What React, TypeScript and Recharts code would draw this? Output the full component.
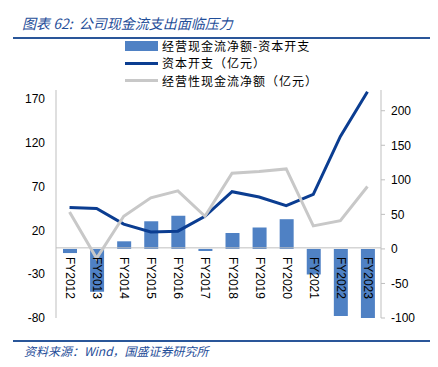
import React from 'react';
import { ComposedChart, Bar, Line, XAxis, YAxis, ReferenceLine, LabelList } from 'recharts';

// values
const years = ['FY2012', 'FY2013', 'FY2014', 'FY2015', 'FY2016', 'FY2017', 'FY2018', 'FY2019', 'FY2020', 'FY2021', 'FY2022', 'FY2023'];
const netFlow = [-6, -62, 11, 40, 48, -3, 23, 31, 43, -37, -97, -100];
const capex = [46, 45, 27, 18, 19, 36, 64, 58, 48, 61, 127, 178];
const opCash = [41, -12, 36, 57, 65, 36, 85, 87, 90, 25, 31, 70];

const leftTicks = [-80, -30, 20, 70, 120, 170];
const rightTicks = [-100, -50, 0, 50, 100, 150, 200];

const seriesNames = ['经营现金流净额-资本开支', '资本开支（亿元）', '经营性现金流净额（亿元）'];
const title = '图表 62:  公司现金流支出面临压力';
const source = '资料来源：Wind，国盛证券研究所';

const BAR = '#4F81C4';
const CAPEX = '#0B3D91';
const OPCF = '#C8C8C8';
const AXIS = '#BFBFBF';
const TITLE_BLUE = '#1F4E99';

const rows = years.map((y, i) => ({ year: y, net: netFlow[i], capex: capex[i], op: opCash[i] }));

const tickFont = { fontSize: 12, fontFamily: '"Liberation Sans", Arial, sans-serif', fill: '#000' };

const renderYear = (props: any) => {
  const { x, y, width, height, index } = props;
  const top = Math.min(y, y + height);
  const bottom = Math.max(y, y + height);
  const base = netFlow[index] >= 0 ? bottom : top;
  return (
    <text
      key={`yr-${index}`}
      transform={`translate(${x + width / 2},${base + 8}) rotate(90)`}
      dominantBaseline="central"
      {...tickFont}
    >
      {years[index]}
    </text>
  );
};

const LegendRow = ({ top, kind, label }: { top: number; kind: string; label: string }) => (
  <div style={{ position: 'absolute', left: 125, top: top - 7, height: 14, display: 'flex', alignItems: 'center' }}>
    {kind === 'bar' ? (
      <div style={{ width: 33, height: 10, background: BAR }} />
    ) : (
      <div style={{ width: 33, height: 3, background: kind === 'capex' ? CAPEX : OPCF }} />
    )}
    <div style={{ marginLeft: 4, fontSize: 12, letterSpacing: 1, lineHeight: '14px', height: 14, color: '#000', whiteSpace: 'nowrap' }}>
      {label}
    </div>
  </div>
);

export default function App() {
  return (
    <div
      style={{
        position: 'absolute',
        left: 0,
        top: 0,
        width: 438,
        height: 367,
        background: '#fff',
        fontFamily: '"Noto Sans CJK SC", "Noto Sans", sans-serif',
        overflow: 'hidden',
      }}
    >
      <div style={{ position: 'absolute', left: 22, top: 13, fontSize: 14, lineHeight: '20px', fontStyle: 'italic', color: TITLE_BLUE, whiteSpace: 'pre' }}>
        {title}
      </div>
      <div style={{ position: 'absolute', left: 13, top: 37, width: 417, height: 2, background: '#2A5699' }} />

      <ComposedChart width={438} height={367} data={rows} margin={{ top: 90, right: 0, bottom: 49, left: 0 }}>
        <XAxis dataKey="year" hide />
        <YAxis
          yAxisId="left"
          orientation="left"
          width={56}
          domain={[-80, 180]}
          ticks={leftTicks}
          allowDataOverflow
          axisLine={{ stroke: AXIS }}
          tickLine={false}
          tickMargin={5}
          tick={tickFont}
        />
        <YAxis
          yAxisId="right"
          orientation="right"
          width={57}
          domain={[-100, 230]}
          ticks={rightTicks}
          allowDataOverflow
          axisLine={{ stroke: AXIS }}
          tickLine={{ stroke: AXIS }}
          tickSize={4}
          tickMargin={6}
          tick={tickFont}
        />
        <Bar yAxisId="right" dataKey="net" fill={BAR} barSize={14} isAnimationActive={false}>
          <LabelList dataKey="year" content={renderYear} />
        </Bar>
        <ReferenceLine yAxisId="left" y={0} stroke={AXIS} />
        <Line yAxisId="left" type="linear" dataKey="capex" stroke={CAPEX} strokeWidth={3} dot={false} activeDot={false} isAnimationActive={false} />
        <Line yAxisId="left" type="linear" dataKey="op" stroke={OPCF} strokeWidth={3} dot={false} activeDot={false} isAnimationActive={false} />
      </ComposedChart>

      <LegendRow top={45.5} kind="bar" label={seriesNames[0]} />
      <LegendRow top={63} kind="capex" label={seriesNames[1]} />
      <LegendRow top={80.5} kind="op" label={seriesNames[2]} />

      <div style={{ position: 'absolute', left: 13, top: 340, width: 417, height: 2, background: '#2A5699' }} />
      <div style={{ position: 'absolute', left: 24, top: 343, fontSize: 12, lineHeight: '16px', fontStyle: 'italic', color: TITLE_BLUE, whiteSpace: 'nowrap' }}>
        {source}
      </div>
    </div>
  );
}
